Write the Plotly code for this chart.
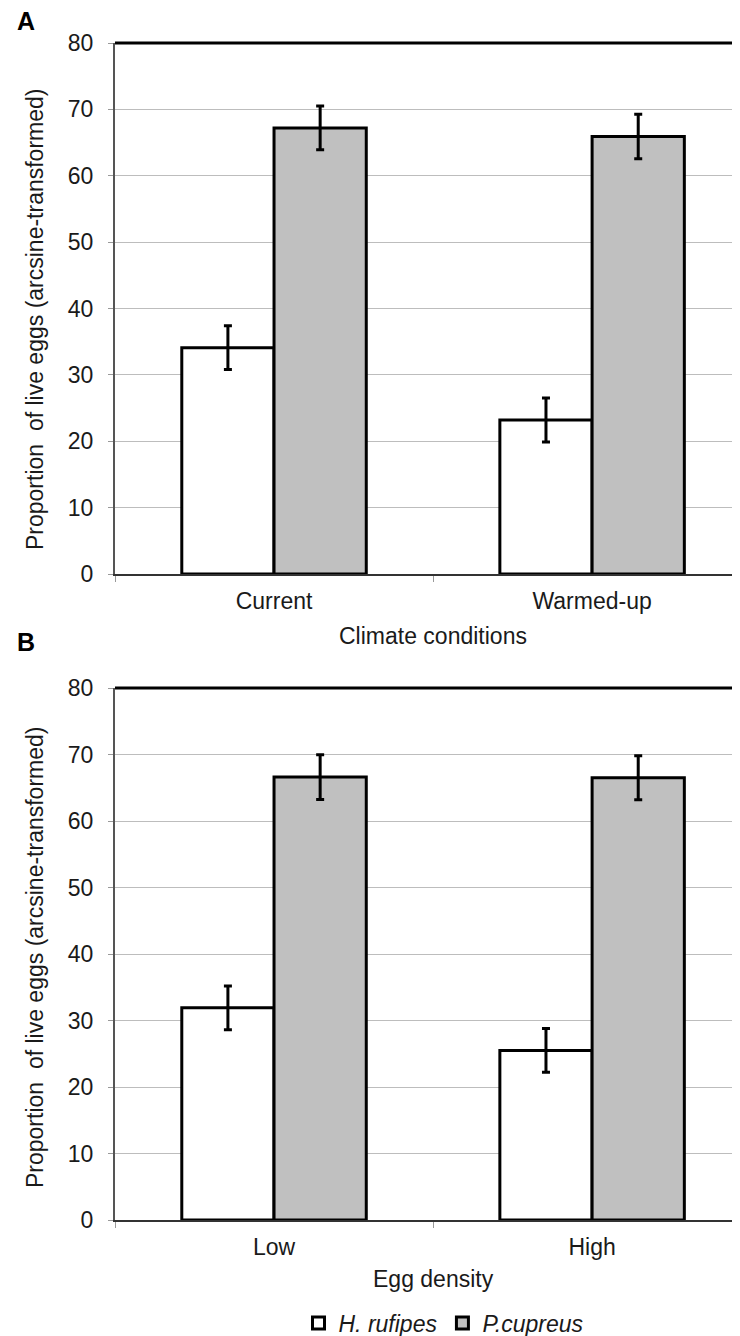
import plotly.graph_objects as go

# ---- data ----
climate = ["Current", "Warmed-up"]
density = ["Low", "High"]
series = ["H. rufipes", "P.cupreus"]

a_hruf = [34.1, 23.2]
a_hruf_err = [3.3, 3.3]
a_pcup = [67.2, 65.9]
a_pcup_err = [3.3, 3.35]

b_hruf = [31.9, 25.5]
b_hruf_err = [3.3, 3.3]
b_pcup = [66.6, 66.5]
b_pcup_err = [3.35, 3.3]

y_ticks = [0, 10, 20, 30, 40, 50, 60, 70, 80]
y_title = "Proportion  of live eggs (arcsine-transformed)"
x_title_a = "Climate conditions"
x_title_b = "Egg density"
panel_labels = ["A", "B"]

# ---- layout helpers ----
# page body has an 8px margin, so the figure is drawn 8px in from the corner
OFF = 8
W, H = 740 - OFF, 1336 - OFF
FONT = "Liberation Sans, Arial, sans-serif"
FS = 23


def fx(px):
    return (px - OFF) / W


def fy(py):
    return 1 - (py - OFF) / H


# plot areas (screen pixels)
X0 = 115
A_TOP, A_BOT = 43, 574
B_TOP, B_BOT = 688, 1220

fig = go.Figure()

colors = ["white", "#c0c0c0"]
panels = [
    ("x", "y", climate, [a_hruf, a_pcup], [a_hruf_err, a_pcup_err], True),
    ("x2", "y2", density, [b_hruf, b_pcup], [b_hruf_err, b_pcup_err], False),
]
for xa, ya, cats, vals, errs, show in panels:
    for i in range(2):
        fig.add_trace(go.Bar(
            x=cats, y=vals[i], name=series[i],
            marker=dict(color=colors[i], line=dict(color="black", width=3)),
            error_y=dict(type="data", array=errs[i], color="black",
                         thickness=3, width=4),
            xaxis=xa, yaxis=ya, legendgroup=series[i], showlegend=show,
        ))

xcommon = dict(
    type="category", range=[-0.5, 1.465], tickson="boundaries",
    ticks="outside", ticklen=6, tickcolor="#999999", tickwidth=1,
    showline=True, linecolor="#333333", linewidth=2, showgrid=False,
    tickfont=dict(family=FONT, size=FS, color="#1a1a1a"),
    ticklabelstandoff=5, automargin=False, fixedrange=True,
)
ycommon = dict(
    range=[0, 80], tickvals=y_ticks, ticks="outside", ticklen=5,
    tickcolor="#999999", tickwidth=1, showline=True, linecolor="#555555",
    linewidth=2, showgrid=True, gridcolor="#bdbdbd", gridwidth=1,
    zeroline=False,
    tickfont=dict(family=FONT, size=FS, color="#1a1a1a"),
    ticklabelstandoff=10, automargin=False, fixedrange=True,
)

fig.update_layout(
    width=W, height=H,
    margin=dict(l=0, r=0, t=0, b=0, autoexpand=False),
    paper_bgcolor="white", plot_bgcolor="white",
    barmode="group", bargap=0.42, bargroupgap=0,
    xaxis=dict(domain=[fx(X0), 1], anchor="y",
               categoryorder="array", categoryarray=climate, **xcommon),
    xaxis2=dict(domain=[fx(X0), 1], anchor="y2",
                categoryorder="array", categoryarray=density, **xcommon),
    yaxis=dict(domain=[fy(A_BOT), fy(A_TOP)], anchor="x", **ycommon),
    yaxis2=dict(domain=[fy(B_BOT), fy(B_TOP)], anchor="x2", **ycommon),
    legend=dict(orientation="h", x=fx(444), xanchor="center",
                y=fy(1323), yanchor="middle",
                font=dict(family=FONT, size=FS, color="#1a1a1a", style="italic"),
                itemwidth=30, tracegroupgap=0, bgcolor="rgba(0,0,0,0)"),
    showlegend=True,
)

# thick top border on each plot
for xr, yr in [("x domain", "y domain"), ("x2 domain", "y2 domain")]:
    fig.add_shape(type="line", xref=xr, yref=yr, x0=0, x1=1, y0=1, y1=1,
                  line=dict(color="black", width=3))

annos = [
    dict(text=panel_labels[0], x=fx(16), y=fy(21), xanchor="left", yanchor="middle",
         borderpad=0, font=dict(family=FONT, size=25, color="black", weight="bold")),
    dict(text=panel_labels[1], x=fx(16), y=fy(642), xanchor="left", yanchor="middle",
         borderpad=0, font=dict(family=FONT, size=25, color="black", weight="bold")),
    dict(text=y_title, x=fx(35), y=fy(320), textangle=-90, xanchor="center",
         yanchor="middle", font=dict(family=FONT, size=FS, color="#1a1a1a")),
    dict(text=y_title, x=fx(35), y=fy(958), textangle=-90, xanchor="center",
         yanchor="middle", font=dict(family=FONT, size=FS, color="#1a1a1a")),
    dict(text=x_title_a, x=fx(433), y=fy(636), xanchor="center", yanchor="middle",
         font=dict(family=FONT, size=FS, color="#1a1a1a")),
    dict(text=x_title_b, x=fx(433), y=fy(1279), xanchor="center", yanchor="middle",
         font=dict(family=FONT, size=FS, color="#1a1a1a")),
]
for a in annos:
    fig.add_annotation(xref="paper", yref="paper", showarrow=False, **a)

fig.write_html("out.html")
